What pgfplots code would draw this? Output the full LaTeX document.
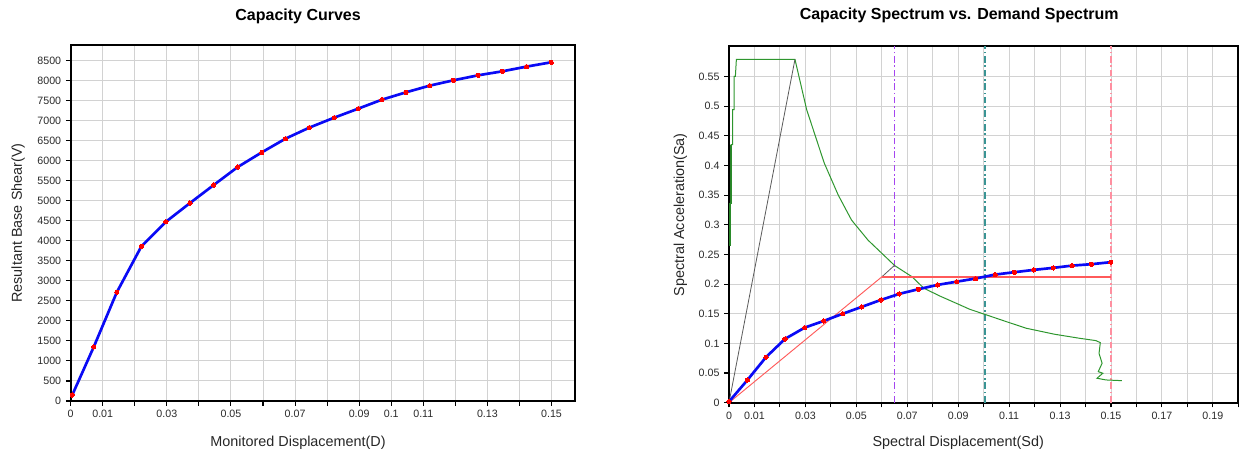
\documentclass[border=0pt]{standalone}
\usepackage{fontspec}
\setmainfont{Liberation Sans}
\usepackage{xcolor}
\usepackage{pgfplots}
\pgfplotsset{compat=1.18}
\definecolor{capblue}{HTML}{0A0AF5}
\definecolor{gridgray}{HTML}{D2D2D2}
\definecolor{demgreen}{HTML}{2E962E}
\definecolor{bilred}{HTML}{FF5A5A}
\definecolor{elgray}{HTML}{5A5A5A}
\definecolor{vpurple}{HTML}{A545F0}
\definecolor{vteal}{HTML}{3A9494}
\definecolor{vpink}{HTML}{FF8FA0}
\definecolor{ticktext}{HTML}{2A2A2A}

\pgfplotsset{
  every axis title shift=0pt,
  panel/.style={
    scale only axis,
    axis line style={black, line width=1.4pt},
    grid=major,
    major grid style={gridgray, line width=0.75pt},
    tick align=outside,
    xtick pos=left, ytick pos=left,
    major tick length=3.6pt,
    tick style={black, line width=0.8pt},
    tick label style={font=\fontsize{8}{9}\selectfont, text=ticktext},
    /pgf/number format/assume math mode=true,
    label style={font=\fontsize{10.8}{12}\selectfont, text=black!85},
    title style={font=\fontsize{12}{14}\selectfont\bfseries, anchor=base},
  },
  dash dot long/.style={dash pattern=on 5pt off 2pt on 1.2pt off 2pt},
}

\begin{document}
\begin{tikzpicture}
\useasboundingbox (0,0) rectangle (931.5pt,339pt);

% left: capacity curve
\begin{axis}[panel,
  at={(53pt,38.25pt)}, anchor=south west,
  width=378.2pt, height=267pt,
  xmin=0, xmax=0.1573, ymin=0, ymax=8890,
  xtick={0,0.01,...,0.155},
  xticklabels={0,0.01,,0.03,,0.05,,0.07,,0.09,0.1,0.11,,0.13,,0.15},
  ytick={0,500,...,8500},
  yticklabel style={/pgf/number format/1000 sep={}},
  title={Capacity Curves},
  title style={at={(axis description cs:0.451,1.070)}},
  xlabel={Monitored Displacement(D)},
  xlabel style={at={(axis description cs:0.451,-0.128)}, anchor=base},
  ylabel={Resultant Base Shear(V)},
  ylabel style={at={(axis description cs:-0.097,0.5)}, anchor=base, rotate=0},
]
\addplot[capblue, line width=2pt, mark=*, mark size=1.6pt,
  mark options={red, draw=red, line width=0pt}] coordinates {
  (0.0005,150) (0.0072,1350) (0.0144,2717) (0.0221,3867) (0.0297,4475)
  (0.0372,4942) (0.0446,5392) (0.0521,5842) (0.0596,6208) (0.0670,6550)
  (0.0744,6825) (0.0822,7075) (0.0897,7300) (0.0971,7525) (0.1046,7708)
  (0.1120,7875) (0.1194,8008) (0.1271,8133) (0.1347,8233) (0.1422,8350)
  (0.1499,8458)};
\end{axis}

% right: capacity spectrum vs demand spectrum
\begin{axis}[panel,
  at={(546.75pt,37pt)}, anchor=south west,
  width=382pt, height=267.75pt,
  xmin=0, xmax=0.2, ymin=0, ymax=0.602,
  xtick={0,0.01,...,0.205},
  xticklabels={0,0.01,,0.03,,0.05,,0.07,,0.09,,0.11,,0.13,,0.15,,0.17,,0.19,},
  ytick={0,0.05,...,0.56},
  yticklabel style={/pgf/number format/fixed, /pgf/number format/precision=2},
  title={Capacity Spectrum vs. Demand Spectrum},
  title style={at={(axis description cs:0.452,1.072)}},
  xlabel={Spectral Displacement(Sd)},
  xlabel style={at={(axis description cs:0.450,-0.124)}, anchor=base},
  ylabel={Spectral Acceleration(Sa)},
  ylabel style={at={(axis description cs:-0.088,0.526)}, anchor=base, rotate=0},
]
% vertical markers
\addplot[vpurple, line width=0.8pt, dash dot long] coordinates {(0.0651,0) (0.0651,0.602)};
\addplot[vteal, line width=1.2pt, dash dot long] coordinates {(0.1006,0) (0.1006,0.602)};
\addplot[vpink, line width=1.1pt, dash dot long] coordinates {(0.15,0) (0.15,0.602)};
% demand spectrum
\addplot[demgreen!80!black, line width=1.3pt] coordinates {
  (0.0004,0.265) (0.0004,0.336) (0.0008,0.336) (0.0008,0.435)};
\addplot[demgreen, line width=0.75pt] coordinates {
  (0.0004,0.265) (0.0004,0.336) (0.0008,0.336) (0.0008,0.435) (0.0014,0.435)
  (0.0014,0.494) (0.0020,0.494) (0.0020,0.550) (0.0025,0.550) (0.0029,0.579)
  (0.0259,0.579) (0.0305,0.494) (0.0374,0.404) (0.0429,0.350) (0.0481,0.308)
  (0.0546,0.274) (0.0651,0.231) (0.0718,0.2125) (0.0765,0.193) (0.0827,0.180)
  (0.0906,0.165) (0.0945,0.1575) (0.1004,0.149) (0.1089,0.1366) (0.1167,0.1255)
  (0.1278,0.1154) (0.1376,0.1086) (0.1441,0.1046) (0.1458,0.1012)
  (0.1453,0.083) (0.1465,0.0665) (0.1450,0.0523) (0.1468,0.0496)
  (0.1445,0.0412) (0.1480,0.0383) (0.1543,0.0371)};
% elastic and radial lines
\addplot[elgray, line width=0.6pt] coordinates {(0,0) (0.0259,0.579)};
\addplot[elgray, line width=0.6pt] coordinates {(0.0601,0.2125) (0.0651,0.232)};
% bilinear
\addplot[bilred, line width=0.7pt] coordinates {(0,0) (0.0601,0.2125)};
\addplot[bilred, line width=1.3pt] coordinates {(0.0601,0.2125) (0.15,0.2125)};
% capacity spectrum
\addplot[capblue, line width=2pt, mark=*, mark size=1.6pt,
  mark options={red, draw=red, line width=0pt}] coordinates {
  (0,0.0017) (0.0072,0.038) (0.0145,0.0766) (0.0220,0.1075) (0.0297,0.1265)
  (0.0372,0.1378) (0.0447,0.150) (0.0521,0.1615) (0.0597,0.1733) (0.0668,0.1834)
  (0.0744,0.1913) (0.0819,0.1986) (0.0894,0.2040) (0.0968,0.2093) (0.1045,0.216)
  (0.1121,0.220) (0.1197,0.2239) (0.1273,0.2273) (0.1347,0.2311) (0.1423,0.2335)
  (0.1499,0.2369)};
\end{axis}
\end{tikzpicture}
\end{document}
